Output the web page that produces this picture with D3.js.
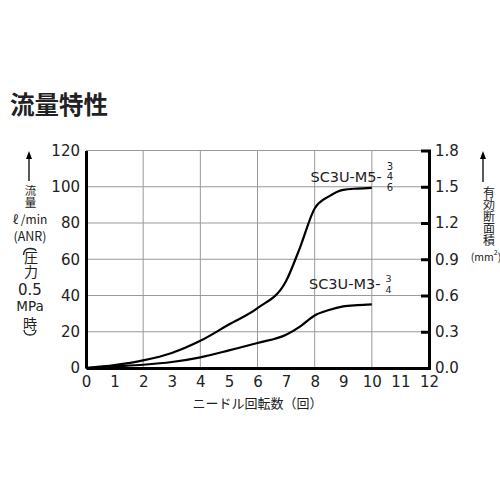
<!DOCTYPE html>
<html><head><meta charset="utf-8">
<script src="https://cdn.jsdelivr.net/npm/d3@7"></script>
<style>body{margin:0;background:#fff}</style>
</head><body>
<script>
const turns = [0, 1, 2, 3, 4, 5, 6, 7, 7.5, 8, 8.5, 9, 9.5, 10];
const flowM5 = [0, 1.6, 4.2, 8.3, 15, 24, 33, 48, 67, 88, 94.7, 98.3, 99, 99.4];
const flowM3 = [0, 0.9, 1.8, 3.3, 5.9, 9.7, 13.8, 18.4, 23, 29, 32, 34, 34.7, 35.1];
const xTicks = [0,1,2,3,4,5,6,7,8,9,10,11,12];
const yTicks = [0,20,40,60,80,100,120];
const y2Ticks = [0,0.3,0.6,0.9,1.2,1.5,1.8];
const seriesNames = ["SC3U-M5-", "SC3U-M3-"];
const seriesSubs = [["3","4","6"], ["3","4"]];

const W=500,H=500;
const svg=d3.select("body").append("svg").attr("width",W).attr("height",H);
const x=d3.scaleLinear().domain([0,12]).range([86,429]);
const y=d3.scaleLinear().domain([0,120]).range([368,150.5]);
const y2=d3.scaleLinear().domain([0,1.8]).range([368,150.5]);
const num="'DejaVu Sans', sans-serif";
const cjk="'Noto Sans CJK JP', sans-serif";

svg.append("text").attr("x",10).attr("y",114).attr("font-family",cjk).attr("font-weight","bold")
  .attr("font-size",24.5).attr("fill","#222").text("流量特性");

// grid
const g=svg.append("g");
g.selectAll(".hg").data(yTicks).join("line").attr("x1",x(0)).attr("x2",x(12))
  .attr("y1",d=>y(d)).attr("y2",d=>y(d)).attr("stroke","#999").attr("stroke-width",1);
g.selectAll(".vg").data([2,4,6,8,10]).join("line").attr("y1",y(0)).attr("y2",y(120))
  .attr("x1",d=>x(d)).attr("x2",d=>x(d)).attr("stroke","#999").attr("stroke-width",1);

// axes
const yAxis=d3.axisLeft(y).tickValues(yTicks).tickSize(0).tickPadding(6);
const ya=svg.append("g").attr("transform",`translate(${x(0)},0)`).call(yAxis);
ya.select(".domain").attr("stroke","#000").attr("stroke-width",3);
ya.selectAll("text").attr("font-family",num).attr("font-size",15).attr("fill","#222");

const xAxis=d3.axisBottom(x).tickValues(xTicks).tickSize(0).tickPadding(8);
const xa=svg.append("g").attr("transform",`translate(0,${y(0)})`).call(xAxis);
xa.select(".domain").attr("stroke","#000").attr("stroke-width",3);
xa.selectAll("text").attr("font-family",num).attr("font-size",15).attr("fill","#222");

const y2Axis=d3.axisLeft(y2).tickValues(y2Ticks).tickSize(8).tickFormat(d3.format(".1f"));
const y2a=svg.append("g").attr("transform",`translate(${x(12)},0)`).call(y2Axis);
y2a.select(".domain").attr("stroke","#000").attr("stroke-width",3);
y2a.selectAll(".tick line").attr("stroke","#000").attr("stroke-width",3)
  .attr("opacity",d=>(d===0||d===1.8)?0:1);
y2a.selectAll("text").attr("x",6).attr("text-anchor","start").attr("font-family",num)
  .attr("font-size",15).attr("fill","#222");

// lines
const line=d3.line().x((d,i)=>x(turns[i])).y(d=>y(d)).curve(d3.curveMonotoneX);
[flowM5,flowM3].forEach(s=>{
  svg.append("path").attr("d",line(s)).attr("fill","none").attr("stroke","#000").attr("stroke-width",2.2);
});

// series labels
const labPos=[[10.35,105.6],[10.3,46.3]];
seriesNames.forEach((n,i)=>{
  const px=x(labPos[i][0]), py=y(labPos[i][1]);
  svg.append("text").attr("x",px).attr("y",py).attr("dy","0.35em").attr("text-anchor","end")
    .attr("font-family",num).attr("font-size",14.5).attr("fill","#222").text(n);
  const subs=seriesSubs[i];
  const step=10.5;
  const start=subs.length===3?py-10.5:py-5.5;
  const st=svg.append("text").attr("text-anchor","middle")
    .attr("font-family",num).attr("font-size",subs.length===3?10:9.5).attr("fill","#222");
  subs.forEach((s,j)=>{
    st.append("tspan").attr("x",px+8).attr("y",start+j*step+3.5).text(s);
  });
});

// axis titles
svg.append("text").attr("x",x(6)).attr("y",408).attr("text-anchor","middle").attr("font-family",cjk)
  .attr("font-size",13).attr("fill","#222").text("ニードル回転数（回）");

function arrow(cx,y1,y2){
  svg.append("line").attr("x1",cx).attr("x2",cx).attr("y1",y1+5).attr("y2",y2).attr("stroke","#000").attr("stroke-width",1.3);
  svg.append("path").attr("d",`M${cx-3},${y1+8}L${cx},${y1}L${cx+3},${y1+8}Z`).attr("fill","#000");
}
function vtext(cx,top,size,txt){
  svg.append("text").attr("x",cx).attr("y",top).attr("font-family",cjk).attr("font-size",size)
    .attr("fill","#222").style("writing-mode","vertical-rl").style("text-orientation","upright").text(txt);
}
arrow(29,151,181);
vtext(30.5,185,11.5,"流量");
vtext(31,250.5,14,"圧力");
const leftT=[["ℓ /min",218,cjk,12],["(ANR)",235,cjk,12.5],
  ["0.5",290,num,15],["MPa",306,num,13.5],["時",323,cjk,14]];
leftT.forEach(t=>{
  svg.append("text").attr("x",30).attr("y",t[1]).attr("dominant-baseline","central").attr("text-anchor","middle")
    .attr("font-family",t[2]).attr("font-size",t[3]).attr("fill","#222").text(t[0]);
});
// vertical parentheses drawn as small arcs
svg.append("path").attr("d","M23.5,255 Q24,248.5 30,248.5 Q35.5,248.5 36,251").attr("fill","none").attr("stroke","#222").attr("stroke-width",1.3);
svg.append("path").attr("d","M24,330 Q24.5,335 30,335 Q35.5,335 36,330").attr("fill","none").attr("stroke","#222").attr("stroke-width",1.3);

arrow(483,151,182);
vtext(489,186,12,"有効断面積");
const mm=svg.append("text").attr("x",486).attr("y",256).attr("dominant-baseline","central").attr("text-anchor","middle")
  .attr("font-family",cjk).attr("font-size",10.5).attr("fill","#222");
mm.append("tspan").text("(mm");
mm.append("tspan").attr("font-size",7).attr("dy","-4").text("2");
mm.append("tspan").attr("dy","4").text(")");
</script>
</body></html>
